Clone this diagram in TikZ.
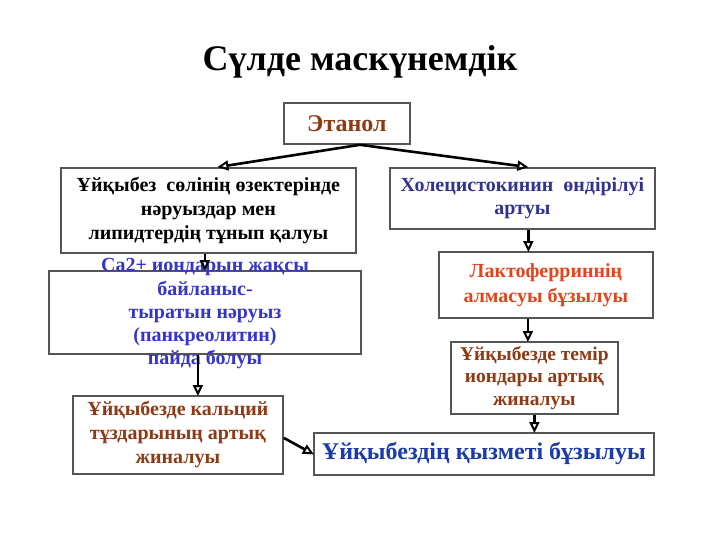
\documentclass[tikz,border=0pt]{standalone}
\usepackage{fontspec}
\setmainfont{Liberation Serif}
\usetikzlibrary{arrows.meta}
\definecolor{cbrown}{HTML}{8E3A14}
\definecolor{cpurple}{HTML}{33338F}
\definecolor{cblue}{HTML}{3535C8}
\definecolor{cred}{HTML}{E0461E}
\definecolor{cfinal}{HTML}{1A3CA8}
\definecolor{cborder}{HTML}{555555}
\tikzset{
  box/.style={draw=cborder, line width=1.8pt, inner sep=0pt, anchor=north west},
  txt/.style={font=\bfseries\fontsize{20}{23.5}\selectfont, align=center, inner sep=0pt},
  arr/.style={line width=2.6pt, -{Triangle[open, length=11pt, width=10pt, line width=2pt]}, shorten >=-1pt}
}
\begin{document}
\begin{tikzpicture}[x=1pt, y=-1pt]
\useasboundingbox (0,0) rectangle (720,540);
\node (title) at (360,62) {\bfseries\fontsize{36}{42}\selectfont Сүлде маскүнемдік};

% boxes
\node[box, minimum width=126pt, minimum height=41pt] (eth) at (283,102) {};
\node[txt, text=cbrown, font=\bfseries\fontsize{24}{28}\selectfont] (etht) at (eth.center) {Этанол};

\node[box, minimum width=295pt, minimum height=85pt] (l1) at (60,167) {};
\node[txt, text=black, font=\bfseries\fontsize{20}{24}\selectfont] (l1t) at (l1.center) {Ұйқыбез\ \ сөлінің өзектерінде\\нәруыздар мен\\липидтердің тұнып қалуы};

\node[box, minimum width=265pt, minimum height=61pt] (r1) at (389,167) {};
\node[txt, text=cpurple] (r1t) at (r1.center) {Холецистокинин\ \ өндірілуі\\артуы};

\node[box, minimum width=312pt, minimum height=83pt] (l2) at (48,270) {};
\node[txt, text=cblue, font=\bfseries\fontsize{20}{23.25}\selectfont] (l2t) at (205,314) {Ca2+ иондарын жақсы\\байланыс-\\тыратын нәруыз\\(панкреолитин)\\пайда болуы};

\node[box, minimum width=214pt, minimum height=66pt] (r2) at (438,251) {};
\node[txt, text=cred, font=\bfseries\fontsize{20}{25}\selectfont] (r2t) at (r2.center) {Лактоферриннің\\алмасуы бұзылуы};

\node[box, minimum width=167pt, minimum height=72pt] (r3) at (450,341) {};
\node[txt, text=cbrown, font=\bfseries\fontsize{19.5}{22.5}\selectfont] (r3t) at (r3.center) {Ұйқыбезде темір\\иондары артық\\жиналуы};

\node[box, minimum width=210pt, minimum height=78pt] (l3) at (72,395) {};
\node[txt, text=cbrown, font=\bfseries\fontsize{20}{24}\selectfont] (l3t) at (l3.center) {Ұйқыбезде кальций\\тұздарының артық\\жиналуы};

\node[box, minimum width=340pt, minimum height=42pt] (fin) at (313,432) {};
\node[txt, text=cfinal, font=\bfseries\fontsize{24}{28}\selectfont] (fint) at (fin.center) {Ұйқыбездің қызметі бұзылуы};

% connectors
\coordinate (ethb) at ([xshift=13pt]eth.south);
\draw[arr] (ethb) -- ([xshift=10pt]l1.north);
\draw[arr] (ethb) -- ([xshift=5pt]r1.north);
\draw[arr] ([xshift=-3.5pt]l1.south) -- ([xshift=-3.5pt]l1.south |- l2.north);
\draw[arr] ([xshift=-7pt]l2.south) -- ([xshift=-7pt]l2.south |- l3.north);
\draw[arr] ([xshift=6pt]r1.south) -- ([xshift=6pt]r1.south |- r2.north);
\draw[arr] ([xshift=-18pt]r2.south) -- ([xshift=-18pt]r2.south |- r3.north);
\draw[arr] (r3.south) -- (r3.south |- fin.north);
\draw[arr] ([yshift=-3pt]l3.east) -- (fin.west);
\end{tikzpicture}
\end{document}
